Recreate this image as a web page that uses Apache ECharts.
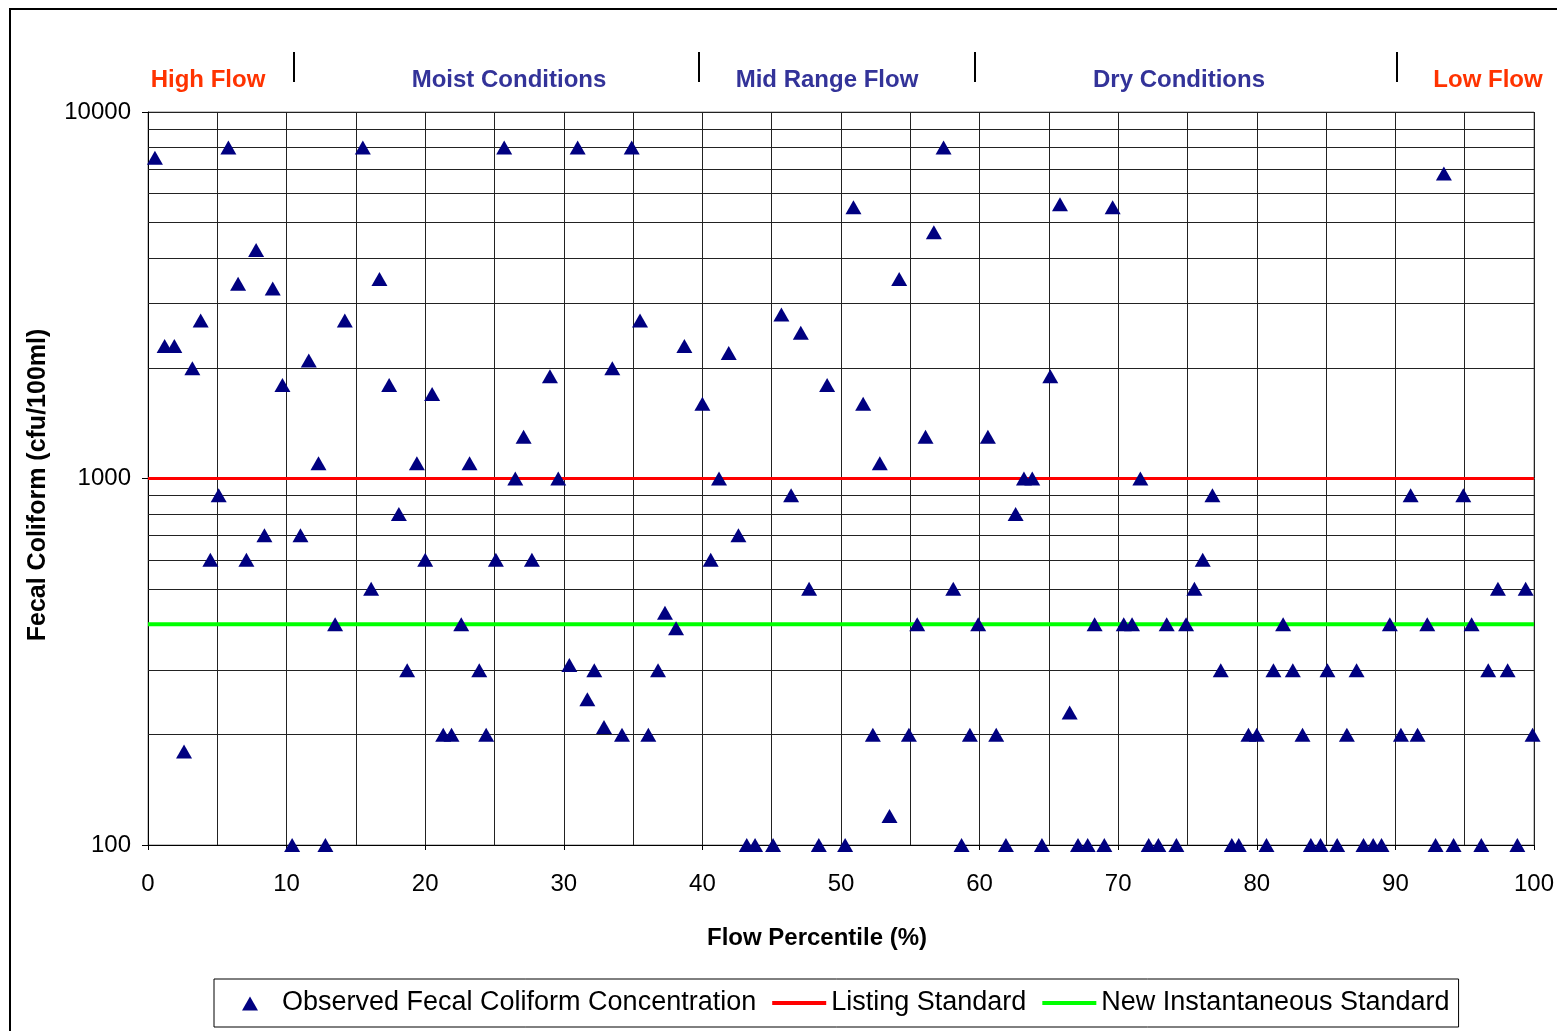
<!DOCTYPE html>
<html>
<head>
<meta charset="utf-8">
<script src="https://cdn.jsdelivr.net/npm/echarts@6/dist/echarts.min.js"></script>
<style>
html,body{margin:0;padding:0;background:#fff;}
#chart{width:1557px;height:1031px;}
</style>
</head>
<body>
<div id="chart"></div>
<script>
// ---- data ----
const flowPct = [
  0.5,1.2,1.9,2.6,3.2,3.8,4.5,5.1,5.8,6.5,7.1,7.8,8.4,9.0,9.7,
  10.4,11.0,11.6,12.3,12.8,13.5,14.2,15.5,16.1,16.7,17.4,18.1,18.7,19.4,20.0,
  20.5,21.3,21.9,22.6,23.2,23.9,24.4,25.1,25.7,26.5,27.1,27.7,29.0,29.6,
  30.4,31.0,31.7,32.2,32.9,33.5,34.2,34.9,35.5,36.1,36.8,37.3,38.1,38.7,
  40.0,40.6,41.2,41.9,42.6,43.2,43.8,45.1,45.7,46.4,47.1,47.7,48.4,49.0,
  50.3,50.9,51.6,52.3,52.8,53.5,54.2,54.9,55.5,56.1,56.7,57.4,58.1,58.7,59.3,59.9,
  60.6,61.2,61.9,62.6,63.2,63.8,64.5,65.1,65.8,66.5,67.1,67.8,68.3,69.0,69.6,
  70.4,71.0,71.6,72.2,72.9,73.5,74.2,74.9,75.5,76.1,76.8,77.4,78.2,78.7,79.4,
  80.0,80.7,81.2,81.9,82.6,83.3,83.9,84.6,85.1,85.8,86.5,87.2,87.7,88.4,89.0,89.6,
  90.4,91.1,91.6,92.3,92.9,93.5,94.2,94.9,95.5,96.2,96.7,97.4,98.1,98.8,99.4,99.9
];
const fecalColiform = [
  7500,2300,2300,180,2000,2700,600,900,8000,3400,600,4200,700,3300,1800,
  100,700,2100,1100,100,400,2700,8000,500,3500,1800,800,300,1100,600,
  1700,200,200,400,1100,300,200,600,8000,1000,1300,600,1900,1000,
  310,8000,250,300,210,2000,200,8000,2700,200,300,430,390,2300,
  1600,600,1000,2200,700,100,100,100,2800,900,2500,500,100,1800,
  100,5500,1600,200,1100,120,3500,200,400,1300,4700,8000,500,100,200,400,
  1300,200,100,800,1000,1000,100,1900,5600,230,100,100,400,100,5500,
  400,400,1000,100,100,400,100,400,500,600,900,300,100,100,200,
  200,100,300,400,300,200,100,100,300,100,200,300,100,100,100,400,
  200,900,200,400,100,6800,100,900,400,100,300,500,300,100,500,200
];
const listingStandard = 1000;
const instantaneousStandard = 400;
const xRange = [0, 100];
const yMinorGrid = [200,300,400,500,600,700,800,900,2000,3000,4000,5000,6000,7000,8000,9000];
const regionLabels = ['High Flow','Moist Conditions','Mid Range Flow','Dry Conditions','Low Flow'];
const seriesNames = ['Observed Fecal Coliform Concentration','Listing Standard','New Instantaneous Standard'];

const FONT = "'Liberation Sans', Arial, sans-serif";
const chart = echarts.init(document.getElementById('chart'), null, {renderer:'canvas'});

const scatterData = flowPct.map((x, i) => [x, fecalColiform[i]]);

const regionStyle = [
  {x:208, color:'#FF3300'},
  {x:509, color:'#333399'},
  {x:827, color:'#333399'},
  {x:1179, color:'#333399'},
  {x:1488, color:'#FF3300'}
];
const separators = [294, 699, 975, 1397];

const graphics = [
  {type:'rect', shape:{x:10, y:9, width:1600, height:1100}, style:{fill:'none', stroke:'#000', lineWidth:2}, silent:true, z:0},
  {type:'text', x:38, y:485, rotation:Math.PI/2, style:{text:'Fecal Coliform (cfu/100ml)', font:"bold 25px " + FONT, fill:'#000', align:'center', verticalAlign:'middle'}},
  {type:'text', x:817, y:938, style:{text:'Flow Percentile (%)', font:"bold 24px " + FONT, fill:'#000', align:'center', verticalAlign:'middle'}}
];
regionLabels.forEach((t, i) => {
  graphics.push({type:'text', x:regionStyle[i].x, y:80, style:{text:t, font:"bold 24px " + FONT, fill:regionStyle[i].color, align:'center', verticalAlign:'middle'}});
});
separators.forEach(sx => {
  graphics.push({type:'line', shape:{x1:sx, y1:52, x2:sx, y2:82}, style:{stroke:'#000', lineWidth:2}});
});

const triIcon = 'path://M0,0M54,15M19,15L27,1L35,15Z';
const lineIcon = 'path://M0,0M54,15M0,5.5L54,5.5L54,9.5L0,9.5Z';

const option = {
  backgroundColor:'#fff',
  animation:false,
  textStyle:{fontFamily:FONT},
  grid:{left:148, top:112, right:22, bottom:186, show:true, borderColor:'#888', borderWidth:1, backgroundColor:'transparent'},
  legend:{
    data:[
      {name:seriesNames[0], icon:triIcon},
      {name:seriesNames[1], icon:lineIcon},
      {name:seriesNames[2], icon:lineIcon}
    ],
    left:214, top:979,
    padding:[9, 9],
    itemGap:16,
    itemWidth:54, itemHeight:15,
    symbolKeepAspect:false,
    borderColor:'#000', borderWidth:1,
    textStyle:{fontSize:27, color:'#000', fontFamily:FONT, lineHeight:30}
  },
  xAxis:{
    type:'value', min:xRange[0], max:xRange[1], interval:10,
    axisLine:{show:true, onZero:false, lineStyle:{color:'#000', width:1}},
    axisTick:{show:true, length:5, lineStyle:{color:'#000'}},
    axisLabel:{fontSize:24, color:'#000', margin:27, fontFamily:FONT},
    splitLine:{show:true, lineStyle:{color:'#222', width:1}},
    minorTick:{show:false, splitNumber:2},
    minorSplitLine:{show:true, lineStyle:{color:'#222', width:1}}
  },
  yAxis:{
    type:'log', logBase:10, min:100, max:10000,
    axisLine:{show:true, lineStyle:{color:'#000', width:1}},
    axisTick:{show:true, length:6, lineStyle:{color:'#000'}},
    axisLabel:{fontSize:24, color:'#000', margin:17, fontFamily:FONT, formatter:v => String(Math.round(v))},
    splitLine:{show:true, lineStyle:{color:'#222', width:1}},
    minorTick:{show:false},
    minorSplitLine:{show:false}
  },
  series:[
    {
      name:'_grid', type:'line', data:[], z:1, silent:true,
      markLine:{
        silent:true, z:1, symbol:['none','none'], label:{show:false},
        lineStyle:{color:'#222', width:1, type:'solid'},
        emphasis:{disabled:true},
        data:yMinorGrid.map(v => ({yAxis:v}))
      }
    },
    {
      name:seriesNames[1], type:'line', z:2,
      data:[[xRange[0], listingStandard],[xRange[1], listingStandard]],
      symbol:'none', showSymbol:false,
      lineStyle:{color:'#FF0000', width:3},
      itemStyle:{color:'#FF0000'}
    },
    {
      name:seriesNames[2], type:'line', z:2,
      data:[[xRange[0], instantaneousStandard],[xRange[1], instantaneousStandard]],
      symbol:'none', showSymbol:false,
      lineStyle:{color:'#00FF00', width:4},
      itemStyle:{color:'#00FF00'}
    },
    {
      name:seriesNames[0], type:'scatter', z:5,
      data:scatterData,
      symbol:'triangle', symbolSize:[16,14],
      itemStyle:{color:'#000080', opacity:1}
    }
  ],
  graphic:graphics
};
chart.setOption(option);
</script>
</body>
</html>
